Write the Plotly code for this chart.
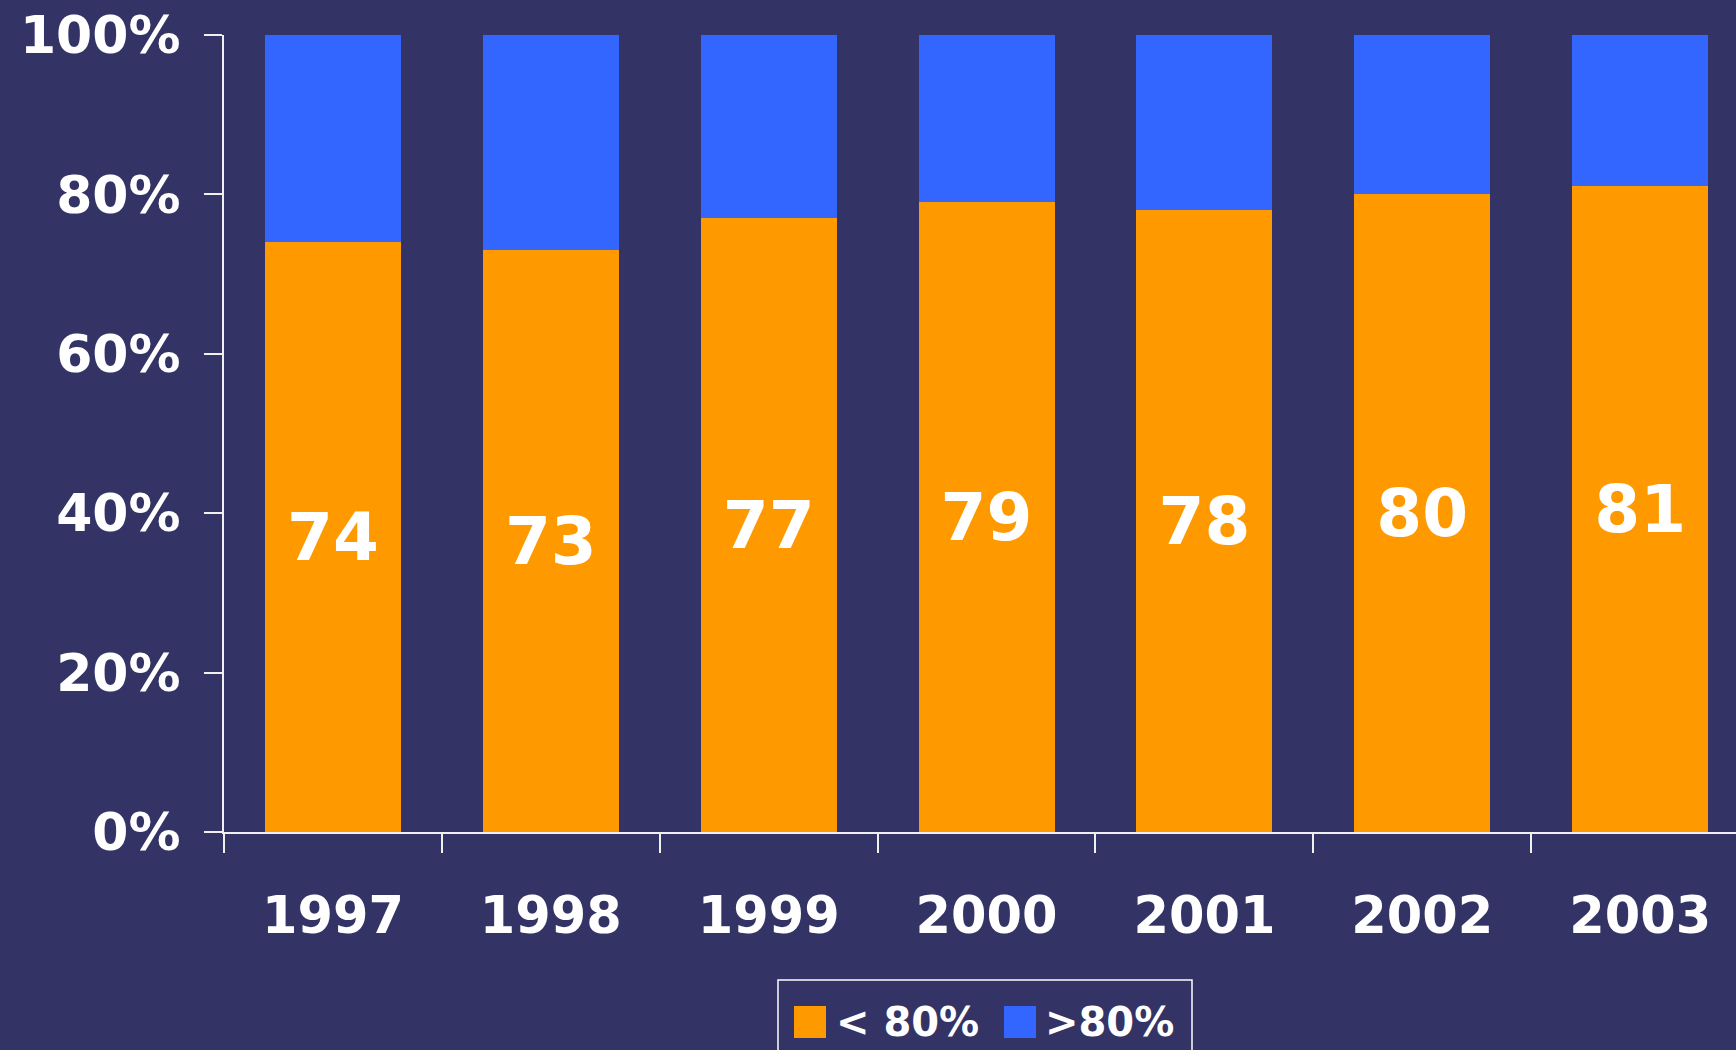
import plotly.graph_objects as go

years = ["1997", "1998", "1999", "2000", "2001", "2002", "2003"]
below_80 = [74, 73, 77, 79, 78, 80, 81]
above_80 = [26, 27, 23, 21, 22, 20, 19]
series_names = ["< 80%", ">80%"]
colors = ["#FF9900", "#3366FF"]
y_ticks = [0, 0.2, 0.4, 0.6, 0.8, 1.0]

BG = "#333366"
FONT = "DejaVu Sans"

W, H = 1736, 1050
ML, MR, MT, MB = 224, 0, 35, 218

fig = go.Figure()
fig.add_trace(go.Bar(
    x=years, y=[v / 100 for v in below_80], name=series_names[0],
    marker=dict(color=colors[0], line=dict(width=0)),
    text=[str(v) for v in below_80], textposition="inside",
    insidetextanchor="middle", textangle=0, constraintext="none",
    textfont=dict(family=FONT, size=66, color="white", weight="bold"),
    hoverinfo="skip",
))
fig.add_trace(go.Bar(
    x=years, y=[v / 100 for v in above_80], name=series_names[1],
    marker=dict(color=colors[1], line=dict(width=0)),
    hoverinfo="skip",
))

pw = W - ML - MR
ph = H - MT - MB


def px_x(p):
    return (p - ML) / pw


def px_y(p):
    return (H - MB - p) / ph


# manual legend (large swatches)
shapes = [
    dict(type="rect", xref="paper", yref="paper",
         x0=px_x(778), x1=px_x(1192), y0=px_y(980), y1=px_y(1075),
         line=dict(color="white", width=1.5), fillcolor=BG, layer="above"),
    dict(type="rect", xref="paper", yref="paper",
         x0=px_x(794), x1=px_x(826), y0=px_y(1006), y1=px_y(1038),
         line=dict(width=0), fillcolor=colors[0]),
    dict(type="rect", xref="paper", yref="paper",
         x0=px_x(1004), x1=px_x(1036), y0=px_y(1006), y1=px_y(1038),
         line=dict(width=0), fillcolor=colors[1]),
]
annotations = [
    dict(xref="paper", yref="paper", x=px_x(834), y=px_y(1022),
         xanchor="left", yanchor="middle", showarrow=False, text=series_names[0],
         font=dict(family=FONT, size=40, color="white", weight="bold")),
    dict(xref="paper", yref="paper", x=px_x(1043), y=px_y(1022),
         xanchor="left", yanchor="middle", showarrow=False, text=series_names[1],
         font=dict(family=FONT, size=40, color="white", weight="bold")),
]

fig.update_layout(
    barmode="stack",
    bargap=0.376,
    width=W, height=H,
    margin=dict(l=ML, r=MR, t=MT, b=MB, pad=0),
    paper_bgcolor=BG, plot_bgcolor=BG,
    showlegend=False,
    shapes=shapes,
    annotations=annotations,
    xaxis=dict(
        type="category", range=[-0.5, 6.44],
        showgrid=False, zeroline=False,
        showline=True, linecolor="#F0F0F0", linewidth=2,
        ticks="outside", tickson="boundaries", ticklen=19, tickwidth=2, tickcolor="#F0F0F0",
        tickfont=dict(family=FONT, size=51, color="white", weight="bold"),
        ticklabelstandoff=38,
    ),
    yaxis=dict(
        range=[0, 1], tickvals=y_ticks, tickformat=".0%",
        showgrid=False, zeroline=False,
        showline=True, linecolor="#F0F0F0", linewidth=2,
        ticks="outside", ticklen=18, tickwidth=2, tickcolor="#F0F0F0",
        tickfont=dict(family=FONT, size=52, color="white", weight="bold"),
        ticklabelstandoff=13,
    ),
)

fig.write_html(
    "out.html",
    config={"displayModeBar": False},
    post_script="document.body.style.margin='0';document.body.style.overflow='hidden';",
)
